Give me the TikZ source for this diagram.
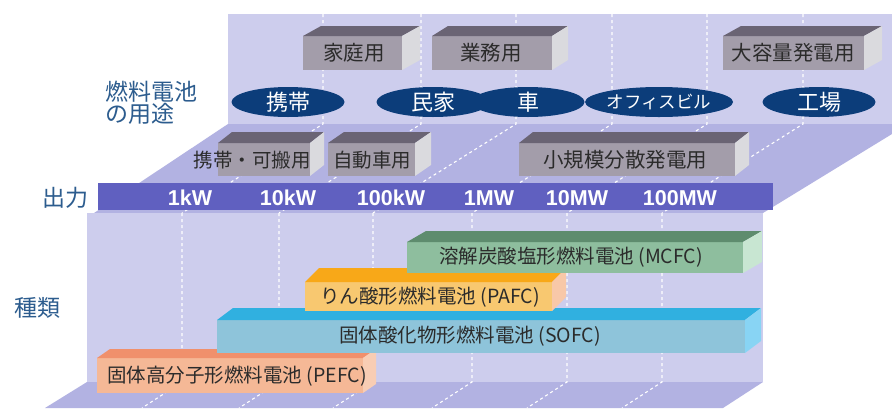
\documentclass[tikz,border=0pt]{standalone}
\usepackage{fontspec}
\setmainfont{Noto Sans CJK JP}
\newfontfamily\tickfont{Liberation Sans}
\usetikzlibrary{shapes.geometric}
\definecolor{panelc}{HTML}{CDCDED}
\definecolor{floorc}{HTML}{B2B2E2}
\definecolor{axisc}{HTML}{6060C0}
\definecolor{navyc}{HTML}{0C3D7A}
\definecolor{lblblue}{HTML}{2C5C8E}
\definecolor{gfront}{HTML}{A39DAA}
\definecolor{gtop}{HTML}{6A6474}
\definecolor{gside}{HTML}{DADADE}
\definecolor{gtext}{HTML}{2B2B2B}
\definecolor{pefcF}{HTML}{F5B896}
\definecolor{pefcT}{HTML}{F0906C}
\definecolor{pefcS}{HTML}{F8CDB4}
\definecolor{sofcF}{HTML}{8EC4DA}
\definecolor{sofcT}{HTML}{30B0E0}
\definecolor{sofcS}{HTML}{88D4F4}
\definecolor{pafcF}{HTML}{F8C870}
\definecolor{pafcT}{HTML}{F8A818}
\definecolor{pafcS}{HTML}{F8C8A8}
\definecolor{mcfcF}{HTML}{8EBE9E}
\definecolor{mcfcT}{HTML}{5E8C6E}
\definecolor{mcfcS}{HTML}{C8E6D2}
\newcommand{\myfs}[1]{\fontsize{#1}{#1}\selectfont}
\newcommand{\slab}[9]{%
  \fill[#7] (#1,#2) rectangle (#3,#4);
  \fill[#8] (#1,#2) -- ({#1+#5},{#2-#6}) -- ({#3+#5},{#2-#6}) -- (#3,#2) -- cycle;
  \fill[#9] (#3,#2) -- ({#3+#5},{#2-#6}) -- ({#3+#5},{#4-#6}) -- (#3,#4) -- cycle;}
\tikzset{
  dl/.style={white, line width=1.1pt, dash pattern=on 3pt off 3pt},
  ell/.style={ellipse, fill=navyc, minimum width=113pt, minimum height=30pt, inner sep=0pt, text=white, font=\myfs{22}},
  boxlbl/.style={text=gtext, inner sep=0pt, font=\myfs{20.5}},
  barlbl/.style={text=gtext, inner sep=0pt, font=\myfs{19.5}},
  ticklbl/.style={text=white, inner sep=0pt, font=\tickfont\bfseries\myfs{21.5}},
  sidelbl/.style={text=lblblue, inner sep=0pt, font=\myfs{23}, align=left}
}
\begin{document}
\begin{tikzpicture}[x=1pt,y=-1pt]
\useasboundingbox (0,0) rectangle (892,408);
\fill[white] (0,0) rectangle (892,408);
% upper back panel and sloped floor
\fill[panelc] (228,14) rectangle (892,124);
\fill[floorc] (228,124) -- (892,124) -- (892,134) -- (763,213) -- (94,213) -- cycle;
\foreach \lo/\up in {182/323,279/421,373/516,472/612,567/707,662/803}
  \draw[dl] (\up,14) -- (\up,124) -- (\lo,213);
% axis bar
\fill[axisc] (98,183) rectangle (773,210);
% lower back panel and bottom floor
\fill[panelc] (87,213) rectangle (763,382);
\fill[floorc] (87,382) -- (763,382) -- (723,408) -- (45,408) -- cycle;
\foreach \lo in {182,279,373,472,567,662}
  \draw[dl] (\lo,213) -- (\lo,382) -- ({\lo-40},408);
% upper boxes
\slab{303}{36}{402}{70}{18}{10}{gfront}{gtop}{gside}
\slab{432}{36}{552}{70}{16}{10}{gfront}{gtop}{gside}
\slab{723}{36}{864}{70}{18}{10}{gfront}{gtop}{gside}
\node[boxlbl] (katei) at (354,53) {家庭用};
\node[boxlbl] (gyomu) at (491,53) {業務用};
\node[boxlbl] (daiyoryo) at (793,53) {大容量発電用};
% ellipses
\node[ell] (keitai) at (288,102) {携帯};
\node[ell] (minka) at (433,102) {民家};
\node[ell] (kuruma) at (528,102) {車};
\node[ell, font=\myfs{17.5}] (office) at (659,102) {オフィスビル};
\node[ell] (kojo) at (819,102) {工場};
% middle boxes
\slab{218}{143}{310}{176}{14}{11}{gfront}{gtop}{gside}
\slab{328}{143}{415}{176}{16}{11}{gfront}{gtop}{gside}
\slab{519}{143}{735}{176}{14}{11}{gfront}{gtop}{gside}
\node[boxlbl, font=\myfs{19.5}] (kahan) at (252,160) {携帯・可搬用};
\node[boxlbl, font=\myfs{19.5}] (jidosha) at (372,160) {自動車用};
\node[boxlbl] (shokibo) at (625,160) {小規模分散発電用};
% tick labels
\node[ticklbl] (t1) at (190,198) {1kW};
\node[ticklbl] (t2) at (288,198) {10kW};
\node[ticklbl] (t3) at (391,198) {100kW};
\node[ticklbl] (t4) at (489,198) {1MW};
\node[ticklbl] (t5) at (577,198) {10MW};
\node[ticklbl] (t6) at (680,198) {100MW};
% fuel cell bars
\slab{97}{358}{363}{393}{13}{9}{pefcF}{pefcT}{pefcS}
\slab{217}{320}{745}{353}{16}{12}{sofcF}{sofcT}{sofcS}
\slab{305}{282}{552}{311}{14}{14}{pafcF}{pafcT}{pafcS}
\slab{407}{242}{743}{273}{19}{11}{mcfcF}{mcfcT}{mcfcS}
\node[barlbl] (pefc) at (237,376) {固体高分子形燃料電池 (PEFC)};
\node[barlbl] (sofc) at (470,336) {固体酸化物形燃料電池 (SOFC)};
\node[barlbl] (pafc) at (430,297) {りん酸形燃料電池 (PAFC)};
\node[barlbl] (mcfc) at (571,257) {溶解炭酸塩形燃料電池 (MCFC)};
% side labels
\node[sidelbl, anchor=north west] (yoto) at (105,81) {燃料電池\\[-1pt]の用途};
\node[sidelbl] (shutsuryoku) at (65,198) {出力};
\node[sidelbl] (shurui) at (37,308) {種類};
\end{tikzpicture}
\end{document}
